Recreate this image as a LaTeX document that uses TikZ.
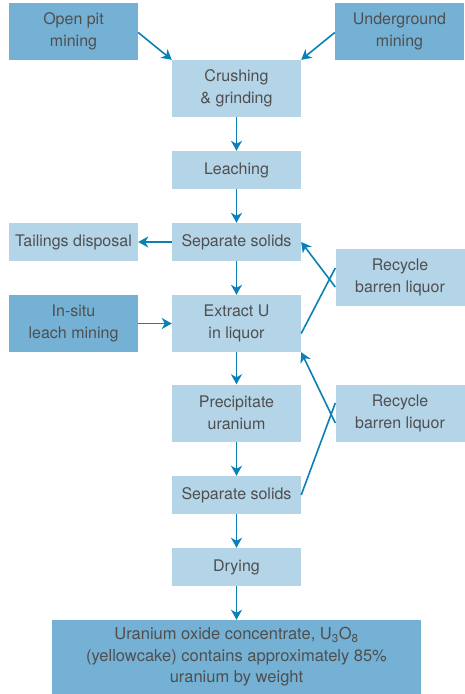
\documentclass[tikz,border=0pt]{standalone}
\usepackage{fontspec}
\setmainfont{TeX Gyre Heros}
\usetikzlibrary{arrows.meta}
\definecolor{boxdark}{HTML}{74B1D5}
\definecolor{boxlight}{HTML}{B4D4E8}
\definecolor{flowblue}{HTML}{0B80B4}
\definecolor{textgray}{HTML}{4F4F4F}
\begin{document}
\begin{tikzpicture}[x=1pt,y=-1pt,
    stage/.style={fill=boxlight, text=textgray, minimum width=129pt, minimum height=38pt, inner sep=0pt, align=center, font=\fontsize{16}{22}\selectfont},
    tallstage/.style={stage, minimum height=57pt},
    source/.style={tallstage, fill=boxdark},
    flow/.style={flowblue, line width=1.6pt, -{Stealth[length=10pt,width=11pt,inset=3pt]}},
    feed/.style={flowblue, line width=1.6pt}]
    \useasboundingbox (0,0) rectangle (464,694);

    % mining sources
    \node[source] (openpit) at (73.5,31.5) {Open pit\\mining};
    \node[source] (underground) at (399.5,31.5) {Underground\\mining};
    \node[source] (insitu) at (73.5,323.5) {In-situ\\leach mining};

    % main line
    \node[tallstage] (crushing) at (236.5,88.5) {Crushing\\\& grinding};
    \node[stage] (leaching) at (236.5,170) {Leaching};
    \node[stage] (separate) at (236.5,242) {Separate solids};
    \node[stage] (tailings) at (73.5,242) {Tailings disposal};
    \node[tallstage] (extract) at (236.5,323.5) {Extract U\\in liquor};
    \node[tallstage] (precipitate) at (236.5,413) {Precipitate\\uranium};
    \node[stage] (separatetwo) at (236.5,495) {Separate solids};
    \node[stage] (drying) at (236.5,567) {Drying};
    \node[source, minimum width=369pt, minimum height=74pt, font=\fontsize{16.5}{21.5}\selectfont] (yellowcake) at (236.5,657)
        {Uranium oxide concentrate, U\textsubscript{3}O\textsubscript{8}\\(yellowcake) contains approximately 85\%\\uranium by weight};

    % recycles
    \node[tallstage] (recycle) at (400,277.5) {Recycle\\barren liquor};
    \node[tallstage] (recycletwo) at (400,413) {Recycle\\barren liquor};

    \draw[flow] (openpit.east) ++(0,1) -- (crushing.north west);
    \draw[flow] (underground.west) ++(0,1) -- (crushing.north east);
    \draw[flow] (crushing) -- (leaching);
    \draw[flow] (leaching) -- (separate);
    \draw[flow] (separate) -- (tailings);
    \draw[flow] (separate) -- (extract);
    \draw[flow] (insitu) -- (extract);
    \draw[flow] (extract) -- (precipitate);
    \draw[flow] (precipitate) -- (separatetwo);
    \draw[flow] (separatetwo) -- (drying);
    \draw[flow] (drying) -- (yellowcake);

    \draw[flow] ([yshift=-9.5pt]recycle.west) -- (separate.east);
    \draw[feed] ([yshift=9.5pt]recycle.west) -- ([yshift=-10pt]extract.east);
    \draw[flow] ([yshift=-10pt]recycletwo.west) -- (extract.south east);
    \draw[feed] ([yshift=10pt]recycletwo.west) -- (separatetwo.east);
\end{tikzpicture}
\end{document}
